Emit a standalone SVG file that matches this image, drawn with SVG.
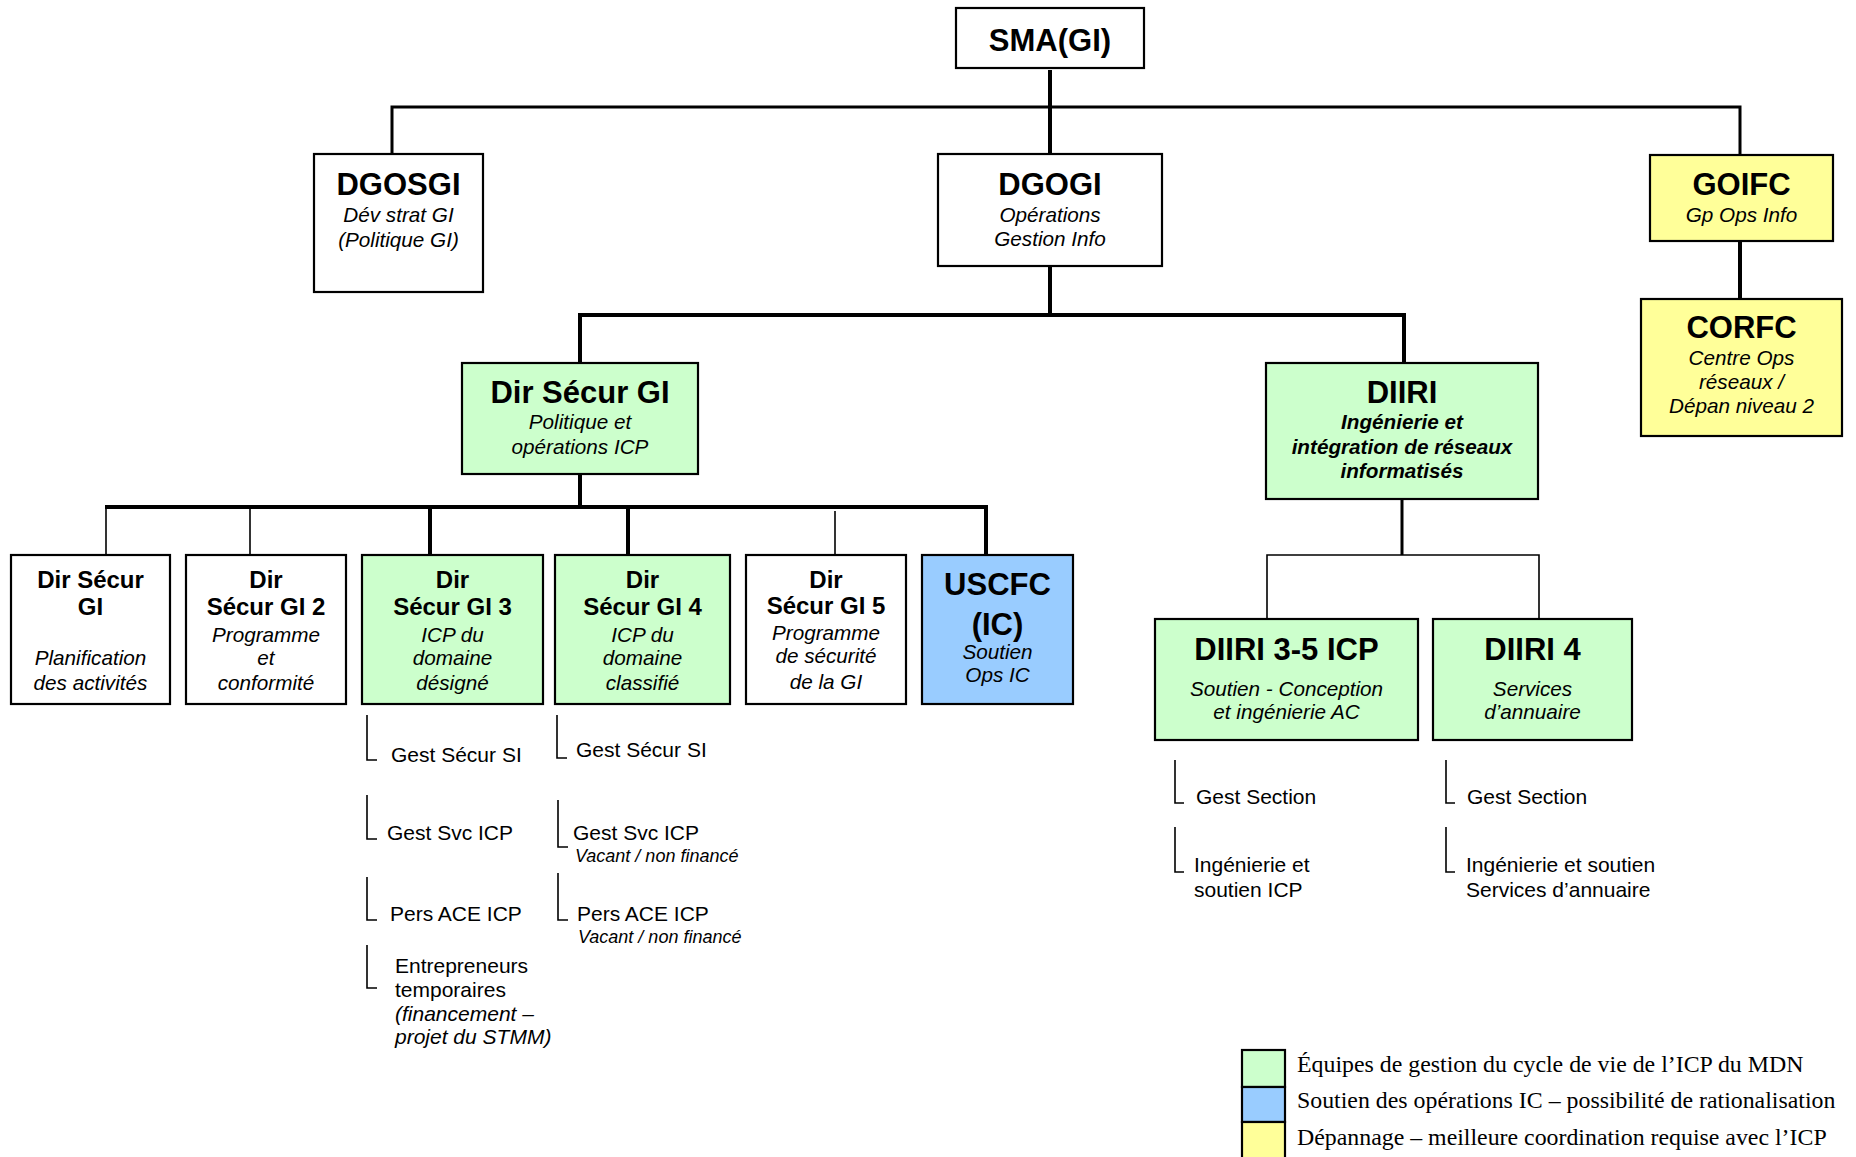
<svg xmlns="http://www.w3.org/2000/svg" width="1856" height="1157" viewBox="0 0 1856 1157">
<style>
.box{stroke:#000;stroke-width:2.2}
.w{fill:#fff}.g{fill:#ccffcc}.b{fill:#99ccff}.y{fill:#ffff99}
text{font-family:"Liberation Sans",Arial,sans-serif;fill:#000;text-anchor:middle}
.t{font-weight:bold;font-size:31px}
.t2{font-weight:bold;font-size:24px}
.s{font-style:italic;font-size:20.7px}
.si{font-style:italic;font-weight:bold;font-size:20.7px}
.it{text-anchor:start;font-size:21px}
.v{text-anchor:start;font-style:italic;font-size:18px}
.lg{font-family:"Liberation Serif","Times New Roman",serif;text-anchor:start;font-size:23.85px}
.k{stroke:#000;fill:none;stroke-width:4}
.m{stroke:#000;fill:none;stroke-width:3}
.n{stroke:#000;fill:none;stroke-width:1.6}
</style>
<rect width="1856" height="1157" fill="#fff"/>
<g id="connectors">
<line class="k" x1="1050" y1="70" x2="1050" y2="154"/>
<polyline class="m" points="392,154 392,107 1740,107 1740,154"/>
<line class="n" x1="392" y1="107" x2="392" y2="154"/>
<line class="k" x1="1740" y1="242" x2="1740" y2="299"/>
<line class="k" x1="1050" y1="266" x2="1050" y2="315"/>
<polyline class="k" points="580,363 580,315 1404,315 1404,363"/>
<line class="k" x1="580" y1="474" x2="580" y2="507"/>
<line class="k" x1="105" y1="507" x2="988" y2="507"/>
<line class="n" x1="106" y1="507" x2="106" y2="555"/>
<line class="n" x1="250" y1="507" x2="250" y2="555"/>
<line class="k" x1="430" y1="507" x2="430" y2="555"/>
<line class="k" x1="628" y1="507" x2="628" y2="555"/>
<line class="n" x1="835" y1="511" x2="835" y2="555"/>
<line class="k" x1="986" y1="507" x2="986" y2="555"/>
<line class="m" x1="1402" y1="499" x2="1402" y2="555"/>
<polyline class="n" points="1267,619 1267,555 1539,555 1539,619"/>
<polyline class="n" points="367,715 367,760 377,760"/>
<polyline class="n" points="367,795 367,839 377,839"/>
<polyline class="n" points="367,877 367,920 377,920"/>
<polyline class="n" points="367,945 367,988 377,988"/>
<polyline class="n" points="557,715 557,758 567,758"/>
<polyline class="n" points="558,800 558,847 568,847"/>
<polyline class="n" points="558,873 558,920 568,920"/>
<polyline class="n" points="1175,760 1175,803 1184,803"/>
<polyline class="n" points="1175,827 1175,872 1184,872"/>
<polyline class="n" points="1446,760 1446,803 1455,803"/>
<polyline class="n" points="1446,827 1446,872 1455,872"/>
</g>
<g id="sma"><rect class="box w" x="956" y="8" width="188" height="60"/><text class="t" x="1050" y="51">SMA(GI)</text></g>
<g id="dgosgi"><rect class="box w" x="314" y="154" width="169" height="138"/><text class="t" x="398.5" y="195">DGOSGI</text><text class="s" x="398.5" y="222">Dév strat GI</text><text class="s" x="398.5" y="247">(Politique GI)</text></g>
<g id="dgogi"><rect class="box w" x="938" y="154" width="224" height="112"/><text class="t" x="1050" y="195">DGOGI</text><text class="s" x="1050" y="222">Opérations</text><text class="s" x="1050" y="246">Gestion Info</text></g>
<g id="goifc"><rect class="box y" x="1650" y="155" width="183" height="86"/><text class="t" x="1741.5" y="195">GOIFC</text><text class="s" x="1741.5" y="222">Gp Ops Info</text></g>
<g id="corfc"><rect class="box y" x="1641" y="299" width="201" height="137"/><text class="t" x="1741.5" y="338">CORFC</text><text class="s" x="1741.5" y="365">Centre Ops</text><text class="s" x="1741.5" y="389">réseaux /</text><text class="s" x="1741.5" y="413">Dépan niveau 2</text></g>
<g id="dirsecurgi"><rect class="box g" x="462" y="363" width="236" height="111"/><text class="t" x="580" y="403">Dir Sécur GI</text><text class="s" x="580" y="429">Politique et</text><text class="s" x="580" y="454">opérations ICP</text></g>
<g id="diiri"><rect class="box g" x="1266" y="363" width="272" height="136"/><text class="t" x="1402" y="403">DIIRI</text><text class="si" x="1402" y="429">Ingénierie et</text><text class="si" x="1402" y="454">intégration de réseaux</text><text class="si" x="1402" y="478">informatisés</text></g>
<g id="dsg1"><rect class="box w" x="11" y="555" width="159" height="149"/><text class="t2" x="90.5" y="588">Dir Sécur</text><text class="t2" x="90.5" y="615">GI</text><text class="s" x="90.5" y="665">Planification</text><text class="s" x="90.5" y="690">des activités</text></g>
<g id="dsg2"><rect class="box w" x="186" y="555" width="160" height="149"/><text class="t2" x="266" y="588">Dir</text><text class="t2" x="266" y="615">Sécur GI 2</text><text class="s" x="266" y="642">Programme</text><text class="s" x="266" y="665">et</text><text class="s" x="266" y="690">conformité</text></g>
<g id="dsg3"><rect class="box g" x="362" y="555" width="181" height="149"/><text class="t2" x="452.5" y="588">Dir</text><text class="t2" x="452.5" y="615">Sécur GI 3</text><text class="s" x="452.5" y="642">ICP du</text><text class="s" x="452.5" y="665">domaine</text><text class="s" x="452.5" y="690">désigné</text></g>
<g id="dsg4"><rect class="box g" x="555" y="555" width="175" height="149"/><text class="t2" x="642.5" y="588">Dir</text><text class="t2" x="642.5" y="615">Sécur GI 4</text><text class="s" x="642.5" y="642">ICP du</text><text class="s" x="642.5" y="665">domaine</text><text class="s" x="642.5" y="690">classifié</text></g>
<g id="dsg5"><rect class="box w" x="746" y="555" width="160" height="149"/><text class="t2" x="826" y="588">Dir</text><text class="t2" x="826" y="614">Sécur GI 5</text><text class="s" x="826" y="640">Programme</text><text class="s" x="826" y="663">de sécurité</text><text class="s" x="826" y="689">de la GI</text></g>
<g id="uscfc"><rect class="box b" x="922" y="555" width="151" height="149"/><text class="t" x="997.5" y="595">USCFC</text><text class="t" x="997.5" y="635">(IC)</text><text class="s" x="997.5" y="659">Soutien</text><text class="s" x="997.5" y="682">Ops IC</text></g>
<g id="diiri35"><rect class="box g" x="1155" y="619" width="263" height="121"/><text class="t" x="1286.5" y="660">DIIRI 3-5 ICP</text><text class="s" x="1286.5" y="696">Soutien - Conception</text><text class="s" x="1286.5" y="719">et ingénierie AC</text></g>
<g id="diiri4"><rect class="box g" x="1433" y="619" width="199" height="121"/><text class="t" x="1532.5" y="660">DIIRI 4</text><text class="s" x="1532.5" y="696">Services</text><text class="s" x="1532.5" y="719">d’annuaire</text></g>
<g id="items3">
<text class="it" x="391" y="762">Gest Sécur SI</text>
<text class="it" x="387" y="840">Gest Svc ICP</text>
<text class="it" x="390" y="921">Pers ACE ICP</text>
<text class="it" x="395" y="973">Entrepreneurs</text>
<text class="it" x="395" y="997">temporaires</text>
<text class="it" x="395" y="1021" font-style="italic">(financement –</text>
<text class="it" x="395" y="1044" font-style="italic">projet du STMM)</text>
</g>
<g id="items4">
<text class="it" x="576" y="757">Gest Sécur SI</text>
<text class="it" x="573" y="840">Gest Svc ICP</text>
<text class="v" x="575" y="862">Vacant / non financé</text>
<text class="it" x="577" y="921">Pers ACE ICP</text>
<text class="v" x="578" y="943">Vacant / non financé</text>
</g>
<g id="itemsdiiri">
<text class="it" x="1196" y="804">Gest Section</text>
<text class="it" x="1194" y="872">Ingénierie et</text>
<text class="it" x="1194" y="897">soutien ICP</text>
<text class="it" x="1467" y="804">Gest Section</text>
<text class="it" x="1466" y="872">Ingénierie et soutien</text>
<text class="it" x="1466" y="897">Services d’annuaire</text>
</g>
<g id="legend">
<rect class="box g" x="1242" y="1050" width="43" height="37"/>
<rect class="box b" x="1242" y="1087" width="43" height="35"/>
<rect class="box y" x="1242" y="1122" width="43" height="40"/>
<text class="lg" x="1297" y="1072">Équipes de gestion du cycle de vie de l’ICP du MDN</text>
<text class="lg" x="1297" y="1108">Soutien des opérations IC – possibilité de rationalisation</text>
<text class="lg" x="1297" y="1145">Dépannage – meilleure coordination requise avec l’ICP</text>
</g>
</svg>
